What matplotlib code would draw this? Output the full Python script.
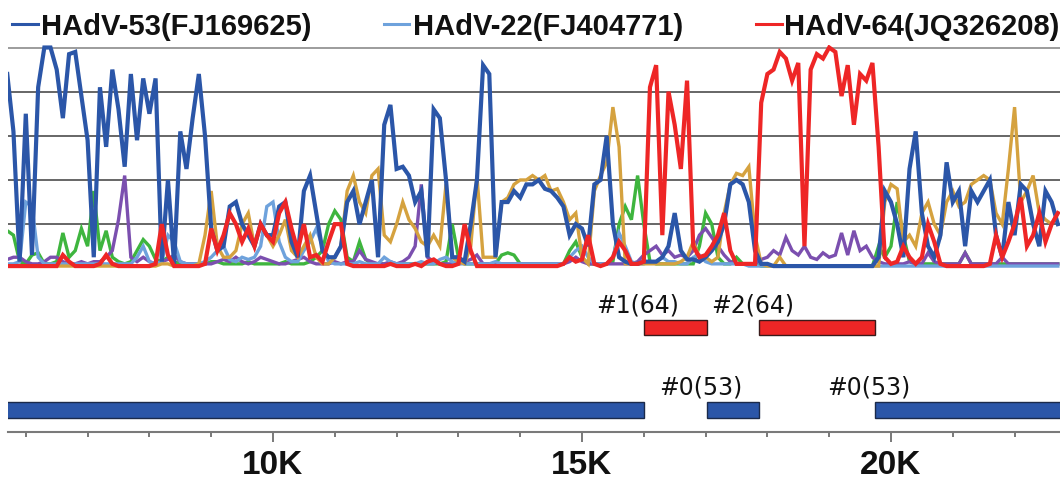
import numpy as np
import matplotlib
matplotlib.use('Agg')
import matplotlib.pyplot as plt
from matplotlib.lines import Line2D
from matplotlib.ticker import FixedLocator

# ---------------- data ----------------
positions = np.arange(5700, 22701, 100)   # sampling grid, bp

hadv53 = [0.88,0.62,0.03,0.70,0.06,0.82,1.00,1.00,0.90,0.68,
          0.97,0.98,0.78,0.58,0.05,0.82,0.55,0.90,0.72,0.46,
          0.88,0.58,0.86,0.70,0.86,0.03,0.40,0.02,0.62,0.45,
          0.68,0.88,0.60,0.18,0.08,0.10,0.28,0.30,0.20,0.15,
          0.10,0.20,0.15,0.15,0.28,0.30,0.12,0.05,0.35,0.42,
          0.25,0.08,0.05,0.05,0.10,0.30,0.35,0.20,0.30,0.40,
          0.05,0.65,0.74,0.45,0.46,0.42,0.30,0.35,0.05,0.72,
          0.68,0.40,0.05,0.05,0.03,0.20,0.40,0.92,0.88,0.05,
          0.30,0.30,0.35,0.32,0.38,0.38,0.40,0.36,0.35,0.32,
          0.28,0.15,0.20,0.18,0.10,0.38,0.40,0.60,0.20,0.05,
          0.03,0.02,0.02,0.03,0.03,0.03,0.05,0.10,0.25,0.08,
          0.04,0.04,0.03,0.05,0.08,0.12,0.20,0.38,0.40,0.38,
          0.30,0.08,0.02,0.02,0.01,0.01,0.01,0.01,0.01,0.01,
          0.01,0.01,0.01,0.01,0.01,0.01,0.01,0.01,0.01,0.01,
          0.01,0.05,0.35,0.30,0.20,0.05,0.45,0.62,0.25,0.10,
          0.05,0.15,0.48,0.30,0.35,0.10,0.35,0.30,0.35,0.40,
          0.15,0.05,0.30,0.15,0.38,0.35,0.20,0.10,0.35,0.30,
          0.20]

hadv64 = [0.01,0.01,0.01,0.01,0.01,0.01,0.01,0.01,0.01,0.06,
          0.03,0.01,0.01,0.01,0.01,0.02,0.06,0.02,0.01,0.01,
          0.01,0.01,0.01,0.01,0.02,0.20,0.06,0.01,0.01,0.01,
          0.01,0.01,0.02,0.18,0.08,0.15,0.25,0.20,0.12,0.18,
          0.10,0.20,0.15,0.12,0.25,0.30,0.18,0.08,0.20,0.05,
          0.06,0.03,0.12,0.20,0.20,0.02,0.01,0.01,0.01,0.01,
          0.01,0.01,0.02,0.01,0.01,0.01,0.02,0.01,0.03,0.04,
          0.02,0.01,0.01,0.02,0.20,0.08,0.01,0.01,0.01,0.01,
          0.01,0.01,0.01,0.01,0.01,0.01,0.01,0.01,0.01,0.01,
          0.02,0.05,0.03,0.04,0.15,0.02,0.01,0.02,0.05,0.12,
          0.08,0.02,0.02,0.03,0.82,0.92,0.15,0.80,0.65,0.45,
          0.85,0.10,0.05,0.06,0.10,0.15,0.25,0.08,0.02,0.02,
          0.02,0.02,0.75,0.88,0.90,0.98,0.95,0.85,0.93,0.10,
          0.90,0.97,0.95,1.00,0.98,0.78,0.92,0.65,0.88,0.85,
          0.93,0.55,0.05,0.02,0.03,0.10,0.05,0.02,0.05,0.20,
          0.12,0.02,0.01,0.01,0.01,0.01,0.01,0.01,0.01,0.02,
          0.15,0.05,0.12,0.20,0.32,0.10,0.15,0.25,0.12,0.20,
          0.25]

hadv22 = [0.02,0.02,0.03,0.30,0.28,0.05,0.02,0.02,0.02,0.02,
          0.02,0.02,0.02,0.02,0.02,0.02,0.02,0.02,0.02,0.02,
          0.02,0.05,0.10,0.03,0.02,0.03,0.15,0.12,0.03,0.02,
          0.02,0.02,0.03,0.05,0.08,0.10,0.04,0.03,0.05,0.04,
          0.05,0.10,0.28,0.30,0.12,0.05,0.03,0.03,0.08,0.12,
          0.18,0.10,0.03,0.02,0.02,0.02,0.02,0.03,0.02,0.02,
          0.02,0.05,0.03,0.02,0.02,0.02,0.02,0.03,0.02,0.02,
          0.04,0.05,0.03,0.02,0.02,0.02,0.02,0.02,0.02,0.03,
          0.02,0.02,0.02,0.02,0.02,0.02,0.02,0.02,0.02,0.02,
          0.02,0.05,0.08,0.10,0.05,0.02,0.02,0.02,0.05,0.16,
          0.10,0.03,0.02,0.02,0.03,0.03,0.05,0.03,0.03,0.02,
          0.02,0.05,0.06,0.03,0.02,0.02,0.02,0.02,0.02,0.02,
          0.01,0.01,0.01,0.01,0.01,0.01,0.01,0.01,0.01,0.01,
          0.01,0.01,0.01,0.01,0.01,0.01,0.01,0.01,0.01,0.01,
          0.01,0.01,0.01,0.01,0.01,0.01,0.01,0.01,0.01,0.01,
          0.01,0.01,0.01,0.01,0.01,0.01,0.01,0.01,0.01,0.01,
          0.01,0.01,0.01,0.01,0.01,0.01,0.01,0.01,0.01,0.01,
          0.01]

gold = [0.01,0.01,0.01,0.01,0.01,0.01,0.01,0.01,0.01,0.01,
        0.01,0.01,0.01,0.01,0.01,0.01,0.01,0.01,0.01,0.01,
        0.01,0.01,0.01,0.01,0.01,0.02,0.02,0.01,0.01,0.01,
        0.01,0.02,0.15,0.35,0.10,0.05,0.05,0.08,0.20,0.25,
        0.10,0.20,0.15,0.10,0.15,0.22,0.08,0.05,0.10,0.15,
        0.05,0.02,0.02,0.05,0.10,0.35,0.42,0.30,0.25,0.42,
        0.45,0.15,0.12,0.20,0.30,0.22,0.18,0.12,0.10,0.15,
        0.10,0.38,0.05,0.03,0.02,0.10,0.42,0.05,0.05,0.05,
        0.30,0.32,0.38,0.40,0.40,0.42,0.40,0.42,0.35,0.36,
        0.30,0.22,0.25,0.05,0.02,0.35,0.42,0.48,0.73,0.55,
        0.02,0.02,0.02,0.02,0.02,0.02,0.02,0.02,0.02,0.03,
        0.05,0.12,0.05,0.05,0.03,0.05,0.25,0.38,0.43,0.42,
        0.46,0.15,0.02,0.01,0.01,0.05,0.01,0.01,0.01,0.01,
        0.01,0.01,0.01,0.01,0.01,0.01,0.01,0.01,0.01,0.01,
        0.01,0.01,0.30,0.38,0.36,0.12,0.15,0.10,0.25,0.30,
        0.20,0.15,0.30,0.35,0.28,0.30,0.38,0.40,0.42,0.40,
        0.25,0.20,0.45,0.73,0.30,0.35,0.42,0.25,0.22,0.20,
        0.25]

green = [0.17,0.15,0.03,0.02,0.06,0.07,0.02,0.02,0.03,0.16,
         0.05,0.08,0.18,0.10,0.35,0.08,0.17,0.05,0.03,0.02,
         0.03,0.08,0.13,0.10,0.04,0.03,0.05,0.03,0.02,0.02,
         0.02,0.02,0.02,0.03,0.03,0.02,0.02,0.02,0.02,0.03,
         0.02,0.02,0.02,0.02,0.02,0.03,0.02,0.02,0.02,0.03,
         0.05,0.08,0.20,0.26,0.22,0.05,0.03,0.12,0.04,0.02,
         0.02,0.02,0.02,0.02,0.02,0.02,0.02,0.02,0.02,0.02,
         0.02,0.03,0.20,0.05,0.02,0.02,0.02,0.02,0.02,0.02,
         0.06,0.07,0.06,0.02,0.02,0.02,0.02,0.02,0.02,0.02,
         0.02,0.08,0.12,0.05,0.02,0.02,0.02,0.02,0.03,0.20,
         0.28,0.22,0.42,0.20,0.03,0.02,0.02,0.02,0.02,0.02,
         0.02,0.02,0.10,0.25,0.20,0.05,0.02,0.02,0.05,0.02,
         0.02,0.02,0.01,0.01,0.01,0.01,0.01,0.01,0.01,0.01,
         0.01,0.01,0.01,0.01,0.01,0.01,0.01,0.01,0.01,0.01,
         0.01,0.10,0.05,0.10,0.30,0.15,0.03,0.02,0.02,0.02,
         0.02,0.02,0.02,0.02,0.02,0.07,0.02,0.02,0.02,0.02,
         0.02,0.02,0.02,0.02,0.02,0.02,0.02,0.02,0.02,0.02,
         0.02]

purple = [0.04,0.05,0.05,0.03,0.02,0.02,0.03,0.05,0.05,0.03,
          0.02,0.02,0.03,0.02,0.03,0.03,0.05,0.08,0.22,0.42,
          0.05,0.03,0.05,0.03,0.02,0.03,0.04,0.06,0.03,0.02,
          0.02,0.02,0.02,0.02,0.03,0.04,0.03,0.05,0.03,0.02,
          0.03,0.05,0.04,0.03,0.02,0.02,0.03,0.04,0.05,0.03,
          0.02,0.02,0.02,0.03,0.02,0.03,0.03,0.08,0.04,0.03,
          0.02,0.02,0.03,0.02,0.03,0.05,0.10,0.38,0.05,0.03,
          0.02,0.02,0.02,0.03,0.03,0.04,0.06,0.02,0.02,0.02,
          0.02,0.02,0.02,0.02,0.02,0.02,0.02,0.02,0.02,0.02,
          0.02,0.03,0.05,0.03,0.02,0.02,0.02,0.02,0.02,0.02,
          0.02,0.02,0.03,0.06,0.08,0.10,0.06,0.08,0.05,0.06,
          0.05,0.08,0.15,0.18,0.14,0.10,0.06,0.03,0.02,0.02,
          0.02,0.02,0.04,0.05,0.08,0.06,0.14,0.08,0.06,0.10,
          0.05,0.04,0.07,0.05,0.06,0.16,0.06,0.17,0.08,0.10,
          0.05,0.03,0.02,0.02,0.02,0.02,0.03,0.02,0.02,0.07,
          0.03,0.02,0.02,0.02,0.02,0.07,0.02,0.02,0.02,0.02,
          0.02,0.05,0.02,0.02,0.02,0.02,0.02,0.02,0.02,0.02,
          0.02]

legend_names = ['HAdV-53(FJ169625)', 'HAdV-22(FJ404771)', 'HAdV-64(JQ326208)']

# recombination segments (bp)
seg64_start = [16000, 17860]
seg64_end = [17020, 19740]
seg64_label = ['#1(64)', '#2(64)']
seg53_start = [5650, 17020, 19740]
seg53_end = [16000, 17860, 22800]
seg53_label = [None, '#0(53)', '#0(53)']

major_ticks = [10000, 15000, 20000]
major_labels = ['10K', '15K', '20K']
minor_ticks = list(range(6000, 23000, 1000))

# ---------------- styling ----------------
C53 = '#2B56A8'
C22 = '#6EA2DC'
C64 = '#EE2626'
CGOLD = '#D5A23F'
CGREEN = '#3EB53E'
CPURPLE = '#7B4FAF'

W, H = 1060, 479
fig = plt.figure(figsize=(W / 100, H / 100), dpi=100)
fig.patch.set_facecolor('white')

def fx(px):
    return px / W

def fy(py):
    return 1 - py / H

XL = (5712, 22735)

# ---- top: similarity traces ----
ax = fig.add_axes([fx(8), fy(272.7), 1 - fx(8), (272.7 - 45.3) / H])
ax.set_xlim(*XL)
ax.set_ylim(-0.02, 1.01)
ax.axis('off')
for g in [0.2, 0.4, 0.6, 0.8]:
    ax.axhline(g, color='#666666', lw=1.4, zorder=1)
ax.axhline(1.0, color='#9c9c9c', lw=1.4, zorder=1)

ax.plot(positions, green, color=CGREEN, lw=2.4, zorder=2, solid_joinstyle='miter')
ax.plot(positions, purple, color=CPURPLE, lw=2.4, zorder=2, solid_joinstyle='miter')
ax.plot(positions, hadv22, color=C22, lw=2.4, zorder=3, solid_joinstyle='miter')
ax.plot(positions, gold, color=CGOLD, lw=2.4, zorder=3, solid_joinstyle='miter')
ax.plot(positions, hadv53, color=C53, lw=3.0, zorder=4, solid_joinstyle='miter')
ax.plot(positions, hadv64, color=C64, lw=3.0, zorder=5, solid_joinstyle='miter')

# ---- legend row (manual) ----
leg_items = [(12, 38, 41, C53), (384, 409, 413, C22), (756, 782, 784, C64)]
for (x0, x1, xt, c), name in zip(leg_items, legend_names):
    fig.add_artist(Line2D([fx(x0), fx(x1)], [fy(24), fy(24)], color=c, lw=2.2,
                          transform=fig.transFigure))
    fig.text(fx(xt), fy(35), name, fontsize=21, fontweight='bold',
             family='Liberation Sans', ha='left', va='baseline', color='#111111')

# ---- bottom: segments + axis ----
ax2 = fig.add_axes([fx(8), fy(432), 1 - fx(8), 142 / H])
ax2.set_xlim(*XL)
ax2.set_ylim(0, 142)
ax2.patch.set_visible(False)
for s in ['top', 'left', 'right']:
    ax2.spines[s].set_visible(False)
ax2.spines['bottom'].set_color('#7a7a7a')
ax2.spines['bottom'].set_linewidth(1.5)
ax2.set_yticks([])

row64_y, row64_h = 104.5, 15
row53_y, row53_h = 22, 16.5

for s, e, lab in zip(seg64_start, seg64_end, seg64_label):
    ax2.barh(row64_y, e - s, left=s, height=row64_h, color=C64,
             edgecolor='#3a1a1a', linewidth=1.0, zorder=3)
    ax2.annotate(lab, xy=(s, row64_y + row64_h / 2), xytext=(-4.3, 5.6),
                 textcoords='offset points', ha='center', va='baseline',
                 fontsize=17, family='DejaVu Sans', color='#111111')

for s, e, lab in zip(seg53_start, seg53_end, seg53_label):
    ax2.barh(row53_y, e - s, left=s, height=row53_h, color=C53,
             edgecolor='#1b2a4a', linewidth=1.0, zorder=3)
    if lab:
        ax2.annotate(lab, xy=(s, row53_y + row53_h / 2), xytext=(-4.3, 5.0),
                     textcoords='offset points', ha='center', va='baseline',
                     fontsize=17, family='DejaVu Sans', color='#111111')

ax2.xaxis.set_major_locator(FixedLocator(major_ticks))
ax2.set_xticklabels(major_labels, fontsize=24, fontweight='bold',
                    family='Liberation Sans', color='#111111')
ax2.xaxis.set_minor_locator(FixedLocator(minor_ticks))
ax2.tick_params(axis='x', which='major', direction='out', length=7.2, width=1.1,
                color='#555555', pad=5.5)
ax2.tick_params(axis='x', which='minor', direction='out', length=3.6, width=1.1,
                color='#555555')

fig.savefig('out.png', dpi=100, facecolor='white')
